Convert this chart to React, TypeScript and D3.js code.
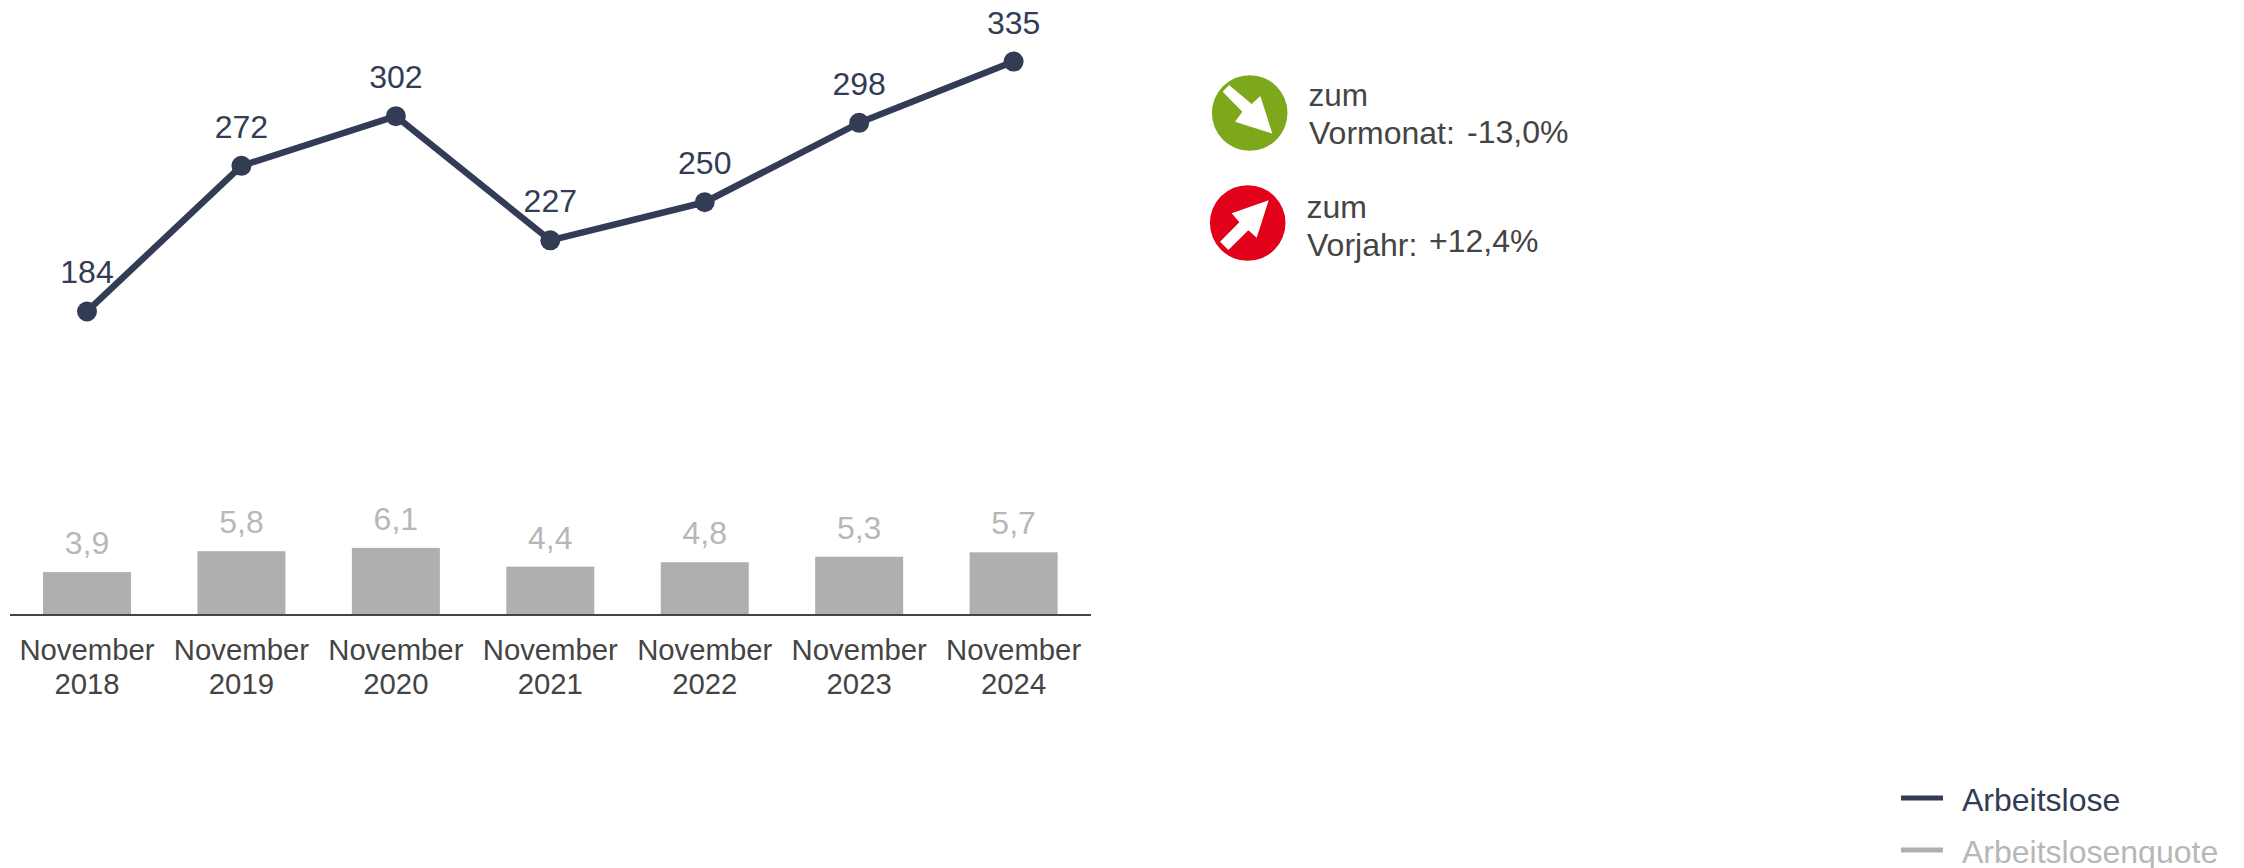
import React from "react";
import * as d3 from "d3";

const categories = ["November 2018", "November 2019", "November 2020", "November 2021", "November 2022", "November 2023", "November 2024"];
const arbeitslose = [184, 272, 302, 227, 250, 298, 335];
const quote = [3.9, 5.8, 6.1, 4.4, 4.8, 5.3, 5.7];
const quoteLabels = ["3,9", "5,8", "6,1", "4,4", "4,8", "5,3", "5,7"];
const legendLabels = ["Arbeitslose", "Arbeitslosenquote"];

const DARK = "#323c54";
const GRAY = "#afafaf";
const GRAYTXT = "#b7b7b7";
const TXT = "#444444";
const FONT = "'Liberation Sans', Arial, sans-serif";

const BASE = 615;
const x = d3.scalePoint<string>().domain(categories).range([87, 1013.6]);
const yLine = d3.scaleLinear().domain([0, 335]).range([616, 616 - 335 * 1.655]);
const yBar = d3.scaleLinear().domain([0, 6.1]).range([BASE, BASE - 6.1 * 11]);
const BAR_W = 88;
const line = d3.line<number>().x((_, i) => x(categories[i])!).y((d) => yLine(d));

export default function App() {
  return (
    <svg width={2244} height={868} viewBox="0 0 2244 868" style={{ position: "absolute", left: 0, top: 0, display: "block" }} fontFamily={FONT}>
      <rect width={2244} height={868} fill="#fff" />
      {quote.map((v, i) => (
        <g key={categories[i]}>
          <rect x={x(categories[i])! - BAR_W / 2} y={yBar(v)} width={BAR_W} height={BASE - yBar(v)} fill={GRAY} />
          <text x={x(categories[i])!} y={yBar(v) - 18} textAnchor="middle" fontSize={32} fill={GRAYTXT}>{quoteLabels[i]}</text>
          <text x={x(categories[i])!} y={660} textAnchor="middle" fontSize={29.3} fill={TXT}>{categories[i].split(" ")[0]}</text>
          <text x={x(categories[i])!} y={694} textAnchor="middle" fontSize={29.3} fill={TXT}>{categories[i].split(" ")[1]}</text>
        </g>
      ))}
      <line x1={10} x2={1091} y1={BASE} y2={BASE} stroke={TXT} strokeWidth={2} />
      <path d={line(arbeitslose)!} fill="none" stroke={DARK} strokeWidth={6.5} strokeLinejoin="round" />
      {arbeitslose.map((v, i) => (
        <g key={i}>
          <circle cx={x(categories[i])!} cy={yLine(v)} r={10} fill={DARK} />
          <text x={x(categories[i])!} y={yLine(v) - 28} textAnchor="middle" fontSize={32} fill={DARK}>{v}</text>
        </g>
      ))}

      <circle cx={1249.7} cy={113} r={37.8} fill="#7ea81c" />
      <polygon transform="translate(1249.7 113) scale(0.3333)" points="68,62 32,-51 6,-27 -62,-84 -81,-64 -22,-4 -44,26" fill="#fff" />
      <text x={1308.5} y={106} fontSize={31.5} fill={TXT}>zum</text>
      <text x={1309} y={144} fontSize={32} fill={TXT}>Vormonat:</text>
      <text x={1467} y={142.5} fontSize={32} fill={TXT}>-13,0%</text>

      <circle cx={1247.7} cy={223} r={37.8} fill="#e2001a" />
      <polygon transform="translate(1247.7 223) scale(0.3333)" points="63,-68 -48,-29 -25,-2 -83,56 -58,81 2,22 27,44" fill="#fff" />
      <text x={1306.5} y={217.5} fontSize={32} fill={TXT}>zum</text>
      <text x={1307} y={256} fontSize={32} fill={TXT}>Vorjahr:</text>
      <text x={1429} y={251.5} fontSize={32} fill={TXT}>+12,4%</text>

      <line x1={1901} x2={1943} y1={798} y2={798} stroke={DARK} strokeWidth={5} />
      <text x={1962} y={811} fontSize={32} fill={DARK}>{legendLabels[0]}</text>
      <line x1={1901} x2={1943} y1={850} y2={850} stroke={GRAY} strokeWidth={5} />
      <text x={1962} y={863} fontSize={32} fill={GRAYTXT}>{legendLabels[1]}</text>
    </svg>
  );
}
